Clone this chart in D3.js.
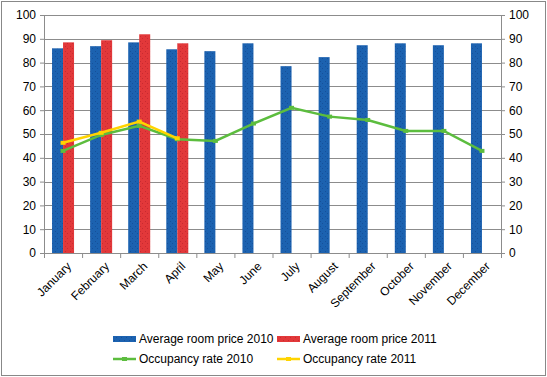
<!DOCTYPE html>
<html>
<head>
<meta charset="utf-8">
<script src="https://cdn.jsdelivr.net/npm/d3@7"></script>
<style>
  body { margin: 0; background: #fff; }
  text { font-family: "Liberation Sans", Arial, sans-serif; font-size: 11px; fill: #000; }
</style>
</head>
<body>
<div id="chart"></div>
<script>
const months = ["January","February","March","April","May","June","July","August","September","October","November","December"]
const price2010 = [86.0, 86.9, 88.5, 85.6, 84.8, 88.1, 78.5, 82.3, 87.3, 88.1, 87.3, 88.1]
const price2011 = [88.5, 89.4, 91.9, 88.1]
const occ2010 = [42.9, 49.6, 53.4, 47.8, 47.1, 54.4, 61.0, 57.3, 55.9, 51.3, 51.3, 42.9]
const occ2011 = [46.3, 50.5, 55.2, 48.2]
const yTicks = [0,10,20,30,40,50,60,70,80,90,100]

const width = 547, height = 377
const margin = {top: 15, right: 46, bottom: 124, left: 44}
const chartWidth = width - margin.left - margin.right
const chartHeight = height - margin.top - margin.bottom

const svg = d3.select('#chart').append('svg')
  .attr('width', width)
  .attr('height', height)

// dotted fill like the original
const defs = svg.append('defs')
function dotPattern(id, base, dot) {
  const p = defs.append('pattern').attr('id', id)
    .attr('width', 5).attr('height', 5).attr('patternUnits', 'userSpaceOnUse')
  p.append('rect').attr('width', 5).attr('height', 5).attr('fill', base)
  p.append('rect').attr('x', 1).attr('y', 1).attr('width', 1).attr('height', 1).attr('fill', dot)
  p.append('rect').attr('x', 3).attr('y', 3).attr('width', 1).attr('height', 1).attr('fill', dot)
}
dotPattern('blueDots', '#1c62b0', '#16509a')
dotPattern('redDots', '#e2383a', '#c82a30')

// outer frame
svg.append('rect')
  .attr('x', 1.5).attr('y', 1.5)
  .attr('width', width - 3).attr('height', height - 3)
  .attr('fill', 'none').attr('stroke', '#888').attr('stroke-width', 1)

const g = svg.append('g').attr('transform', `translate(${margin.left}, ${margin.top})`)

const xScale = d3.scaleBand().domain(months).range([0, chartWidth])
const yScale = d3.scaleLinear().domain([0, 100]).range([chartHeight, 0])

// gridlines
g.append('g').selectAll('line')
  .data(yTicks)
  .join('line')
  .attr('x1', 0).attr('x2', chartWidth)
  .attr('y1', d => Math.round(yScale(d)) + 0.5)
  .attr('y2', d => Math.round(yScale(d)) + 0.5)
  .attr('stroke', '#8c8c8c')

// bars
const barW = 11
g.append('g').selectAll('rect')
  .data(price2010)
  .join('rect')
  .attr('x', (d, i) => xScale(months[i]) + xScale.bandwidth() / 2 - barW)
  .attr('y', d => yScale(d))
  .attr('width', barW)
  .attr('height', d => chartHeight - yScale(d))
  .attr('fill', 'url(#blueDots)')

g.append('g').selectAll('rect')
  .data(price2011)
  .join('rect')
  .attr('x', (d, i) => xScale(months[i]) + xScale.bandwidth() / 2)
  .attr('y', d => yScale(d))
  .attr('width', barW)
  .attr('height', d => chartHeight - yScale(d))
  .attr('fill', 'url(#redDots)')

// axes
const leftAxis = g.append('g')
  .call(d3.axisLeft(yScale).tickValues(yTicks).tickSize(4).tickPadding(4))
const rightAxis = g.append('g')
  .attr('transform', `translate(${chartWidth}, 0)`)
  .call(d3.axisRight(yScale).tickValues(yTicks).tickSize(4).tickPadding(4))
const bottomAxis = g.append('g')
  .attr('transform', `translate(0, ${chartHeight})`)
  .call(d3.axisBottom(d3.scaleLinear().domain([0, 12]).range([0, chartWidth]))
    .tickValues(d3.range(13)).tickSize(5).tickFormat(''))

for (const ax of [leftAxis, rightAxis, bottomAxis]) {
  ax.selectAll('.domain').attr('stroke', '#8c8c8c')
  ax.selectAll('.tick line').attr('stroke', '#8c8c8c')
  ax.selectAll('text').style('font-size', '12px').attr('fill', '#000')
}
leftAxis.select('.domain').attr('d', `M0.5,0V${chartHeight}`)
rightAxis.select('.domain').attr('d', `M0.5,0V${chartHeight}`)

// month labels
g.append('g').selectAll('text')
  .data(months)
  .join('text')
  .attr('transform', d => `translate(${xScale(d) + xScale.bandwidth() / 2 + 3}, ${chartHeight + 8}) rotate(-45)`)
  .attr('text-anchor', 'end')
  .attr('dy', '0.7em')
  .style('font-size', '12px')
  .text(d => d)

// occupancy lines
const line = d3.line()
  .x((d, i) => xScale(months[i]) + xScale.bandwidth() / 2)
  .y(d => yScale(d))

function drawSeries(values, color) {
  g.append('path').datum(values)
    .attr('d', line)
    .attr('fill', 'none')
    .attr('stroke', color)
    .attr('stroke-width', 2.5)
  g.append('g').selectAll('rect')
    .data(values)
    .join('rect')
    .attr('x', (d, i) => xScale(months[i]) + xScale.bandwidth() / 2 - 2.5)
    .attr('y', d => yScale(d) - 2)
    .attr('width', 5).attr('height', 4)
    .attr('fill', color)
}
drawSeries(occ2010, '#5cbd3e')
drawSeries(occ2011, '#ffd400')

// legend
const legendItems = [
  {label: 'Average room price 2010', type: 'bar', fill: 'url(#blueDots)', x: 113, y: 339},
  {label: 'Average room price 2011', type: 'bar', fill: 'url(#redDots)', x: 277, y: 339},
  {label: 'Occupancy rate 2010', type: 'line', fill: '#5cbd3e', x: 113, y: 359},
  {label: 'Occupancy rate 2011', type: 'line', fill: '#ffd400', x: 277, y: 359}
]
const legend = svg.append('g')
const legendG = legend.selectAll('g')
  .data(legendItems)
  .join('g')
  .attr('transform', d => `translate(${d.x}, ${d.y})`)

legendG.filter(d => d.type === 'bar').append('rect')
  .attr('x', 0).attr('y', -3).attr('width', 23).attr('height', 6)
  .attr('fill', d => d.fill)
legendG.filter(d => d.type === 'line').append('line')
  .attr('x1', 0).attr('x2', 23).attr('y1', 0).attr('y2', 0)
  .attr('stroke', d => d.fill).attr('stroke-width', 2.5)
legendG.filter(d => d.type === 'line').append('rect')
  .attr('x', 9).attr('y', -2).attr('width', 5).attr('height', 4)
  .attr('fill', d => d.fill)
legendG.append('text')
  .attr('x', 26).attr('dy', '0.35em')
  .style('font-size', '12px')
  .text(d => d.label)
</script>
</body>
</html>
